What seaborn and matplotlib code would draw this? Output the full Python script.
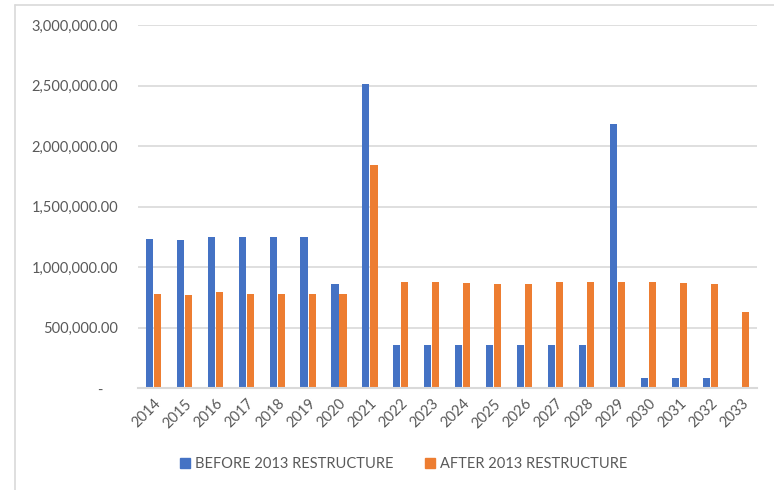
import matplotlib
matplotlib.use("Agg")
import matplotlib.pyplot as plt
import matplotlib.lines as mlines
import seaborn as sns
import pandas as pd

years = [str(y) for y in range(2014, 2034)]
before_2013 = [1230000, 1227000, 1250000, 1247000, 1247000, 1247000, 859000,
               2515000, 360000, 358000, 358000, 360000, 358000, 360000, 358000,
               2180000, 88000, 88000, 88000, 0]
after_2013 = [779000, 771000, 793000, 779000, 779000, 779000, 777000,
              1847000, 880000, 876000, 870000, 862000, 865000, 876000, 879000,
              880000, 876000, 870000, 865000, 628000]
series_names = ["BEFORE 2013 RESTRUCTURE", "AFTER 2013 RESTRUCTURE"]
y_ticks = [0, 500000, 1000000, 1500000, 2000000, 2500000, 3000000]

df = pd.DataFrame({
    "year": years * 2,
    "value": before_2013 + after_2013,
    "series": [series_names[0]] * len(years) + [series_names[1]] * len(years),
})

sns.set_theme(style="white")
plt.rcParams["font.family"] = ["Lato", "DejaVu Sans"]
text_color = "#595959"
grid_color = "#D9D9D9"

fig = plt.figure(figsize=(7.74, 4.9), dpi=100)
ax = fig.add_axes([0.178, 0.2075, 0.80, 0.7415])

palette = {series_names[0]: "#4472C4", series_names[1]: "#ED7D31"}
sns.barplot(data=df, x="year", y="value", hue="series", palette=palette,
            width=0.52, gap=0.12, ax=ax, legend=False, saturation=1,
            edgecolor="none")

ax.set_ylim(0, 3000000)
ax.set_xlim(-0.5, len(years) - 0.5)
ax.set_yticks(y_ticks)
ax.set_yticklabels([("-    " if v == 0 else f"{v:,.2f}") for v in y_ticks])
ax.yaxis.grid(True, color=grid_color, linewidth=1.2)
ax.set_axisbelow(True)
for side in ["top", "right", "left"]:
    ax.spines[side].set_visible(False)
ax.spines["bottom"].set_color(grid_color)
ax.spines["bottom"].set_linewidth(1.5)
ax.tick_params(axis="both", length=0, labelsize=10.5, colors=text_color)
ax.tick_params(axis="y", pad=14)
plt.setp(ax.get_xticklabels(), rotation=45, ha="right", rotation_mode="anchor")
ax.tick_params(axis="x", pad=6)
ax.set_xlabel("")
ax.set_ylabel("")

handles = [mlines.Line2D([], [], marker="s", linestyle="none", markersize=7.5,
                         color=palette[n], label=n) for n in series_names]
fig.legend(handles=handles, loc="center", bbox_to_anchor=(0.52, 0.053),
           ncol=2, frameon=False, fontsize=10.5, labelcolor=text_color,
           handletextpad=0.2, columnspacing=2.0, handlelength=1.0)

# chart area frame (top and left edges)
fig.add_artist(mlines.Line2D([15 / 774, 1.0], [1 - 5 / 490, 1 - 5 / 490],
                             color=grid_color, linewidth=1.2,
                             transform=fig.transFigure))
fig.add_artist(mlines.Line2D([15 / 774, 15 / 774], [0, 1 - 5 / 490],
                             color=grid_color, linewidth=1.2,
                             transform=fig.transFigure))

fig.savefig("out.png", dpi=100)
